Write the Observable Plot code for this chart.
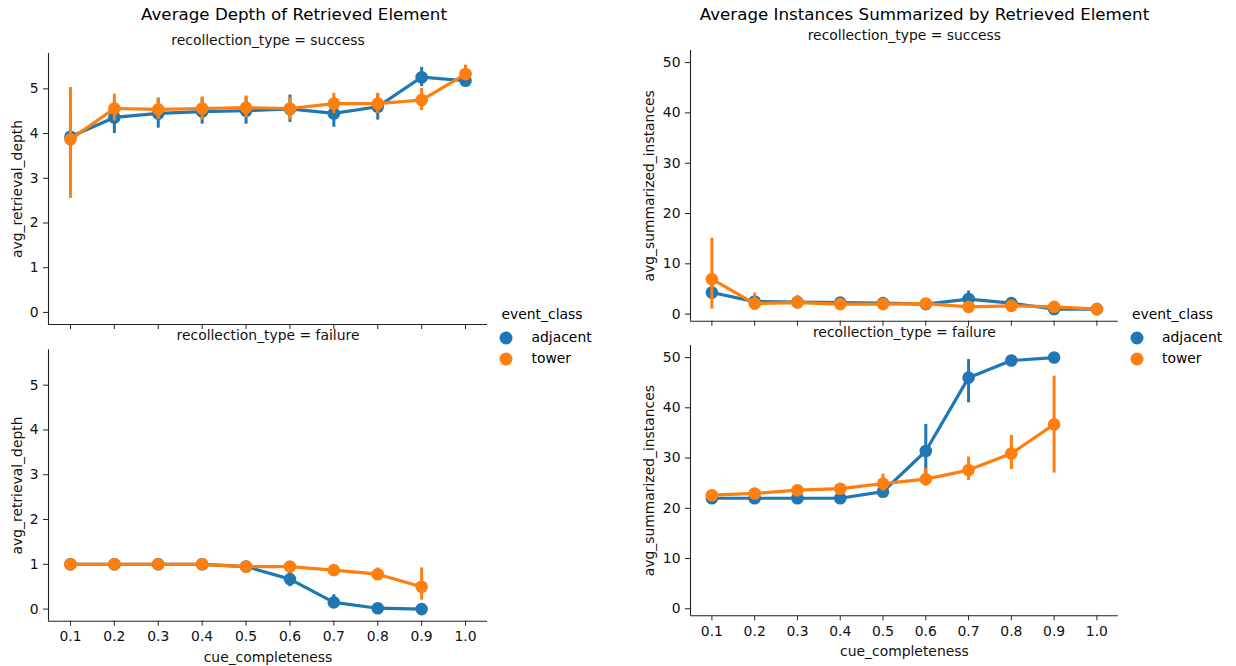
<!DOCTYPE html>
<html><head><meta charset="utf-8">
<script src="https://cdn.jsdelivr.net/npm/d3@7"></script>
<script src="https://cdn.jsdelivr.net/npm/@observablehq/plot@0.6"></script>
<style>
body{margin:0;background:#fff;}
#root{position:relative;width:1236px;height:666px;font-family:"DejaVu Sans",sans-serif;color:#000;overflow:hidden;background:#fff}
.t{position:absolute;white-space:nowrap;line-height:1;}
.sv{position:absolute;}
.dotk{position:absolute;width:13px;height:13px;border-radius:50%;transform:translate(-50%,-50%);}
</style></head><body><div id="root"></div>
<script>
// ---------- data ----------
const categories = ["0.1","0.2","0.3","0.4","0.5","0.6","0.7","0.8","0.9","1.0"];
const eventClasses = ["adjacent","tower"];
const colors = ["#1f77b4","#ff7f0e"];

// Average depth, success
const depthSuccAdjMean = [3.93,4.36,4.45,4.49,4.51,4.55,4.45,4.60,5.26,5.18];
const depthSuccAdjLo   = [3.40,4.00,4.12,4.21,4.21,4.25,4.14,4.30,5.05,5.08];
const depthSuccAdjHi   = [4.50,4.72,4.78,4.78,4.80,4.86,4.78,4.88,5.48,5.30];
const depthSuccTowMean = [3.87,4.56,4.54,4.56,4.58,4.56,4.67,4.67,4.75,5.33];
const depthSuccTowLo   = [2.55,4.28,4.32,4.30,4.35,4.30,4.45,4.45,4.51,5.18];
const depthSuccTowHi   = [5.03,4.88,4.80,4.82,4.84,4.80,4.90,4.90,5.01,5.53];
// Average depth, failure
const depthFailAdjMean = [1.00,1.00,1.00,1.00,0.95,0.67,0.15,0.02,0.00,null];
const depthFailAdjLo   = [1.00,1.00,1.00,1.00,0.92,0.50,0.02,0.00,0.00,null];
const depthFailAdjHi   = [1.00,1.00,1.00,1.00,0.98,0.82,0.32,0.05,0.00,null];
const depthFailTowMean = [1.00,1.00,1.00,1.00,0.95,0.95,0.87,0.78,0.50,null];
const depthFailTowLo   = [1.00,1.00,1.00,1.00,0.90,0.90,0.80,0.66,0.20,null];
const depthFailTowHi   = [1.00,1.00,1.00,1.00,0.99,0.99,0.94,0.92,0.92,null];
// Average summarized instances, success
const instSuccAdjMean = [4.3,2.5,2.4,2.3,2.2,2.0,3.0,2.2,1.0,1.0];
const instSuccAdjLo   = [3.0,1.6,1.6,1.7,1.7,1.6,1.7,1.6,0.9,0.9];
const instSuccAdjHi   = [5.8,3.5,3.3,3.1,2.8,2.5,4.6,2.9,1.2,1.1];
const instSuccTowMean = [6.96,2.1,2.3,2.0,2.0,2.1,1.45,1.65,1.45,1.0];
const instSuccTowLo   = [1.0,1.0,1.4,1.5,1.5,1.6,1.0,1.1,1.0,0.9];
const instSuccTowHi   = [15.1,4.2,3.7,2.8,2.6,2.7,2.0,2.4,2.0,1.2];
// Average summarized instances, failure
const instFailAdjMean = [22.0,22.0,22.0,22.0,23.3,31.4,46.0,49.4,50.0,null];
const instFailAdjLo   = [22.0,22.0,22.0,22.0,22.4,25.9,41.0,48.6,50.0,null];
const instFailAdjHi   = [22.0,22.0,22.0,22.0,24.2,36.7,49.6,50.0,50.0,null];
const instFailTowMean = [22.6,22.95,23.6,23.9,24.9,25.8,27.6,30.9,36.7,null];
const instFailTowLo   = [22.2,22.6,23.2,23.5,23.4,24.4,25.5,27.7,27.0,null];
const instFailTowHi   = [23.0,23.3,24.0,24.3,26.8,27.9,30.2,34.5,46.3,null];

const depthTicks = [0,1,2,3,4,5];
const instTicks = [0,10,20,30,40,50];

// ---------- helpers ----------
function rowsOf(mean, lo, hi, cls) {
  return categories.map((c, i) => ({i, cat: c, y: mean[i], lo: lo[i], hi: hi[i], cls}))
    .filter(d => d.y != null);
}
const root = document.getElementById("root");
const FS = 13.9;

function addText(txt, x, y, size, anchor = "middle") {
  const d = document.createElement("div");
  d.className = "t";
  d.textContent = txt;
  d.style.fontSize = size + "px";
  d.style.left = x + "px";
  d.style.top = y + "px";
  d.style.transform = anchor === "middle" ? "translate(-50%,-50%)" : "translate(0,-50%)";
  root.appendChild(d);
}

function panel({series, yDomain, yTicks, ylabel, ylabelDx, facet, facetDy, showX, left, top, width, height, mL, mR, mT, mB}) {
  const marks = [];
  marks.push(Plot.ruleY([yDomain[0]], {stroke: "#222", strokeWidth: 1.1}));
  marks.push(Plot.ruleX([-0.5], {stroke: "#222", strokeWidth: 1.1}));
  marks.push(Plot.axisX(d3.range(categories.length), {
    tickSize: 5, tickPadding: 5, label: null, stroke: "#222",
    tickFormat: i => showX ? categories[i] : "", fill: "#111"
  }));
  marks.push(Plot.axisY(yTicks, {tickSize: 5, tickPadding: 5, label: null, stroke: "#222", fill: "#111"}));
  series.forEach((rows, k) => {
    marks.push(Plot.line(rows, {x: "i", y: "y", stroke: colors[k], strokeWidth: 3.2}));
    marks.push(Plot.ruleX(rows, {x: "i", y1: "lo", y2: "hi", stroke: colors[k], strokeWidth: 3}));
    marks.push(Plot.dot(rows, {x: "i", y: "y", r: 6.3, fill: colors[k], stroke: null}));
  });
  marks.push(Plot.text([ylabel], {frameAnchor: "left", dx: ylabelDx, rotate: -90, textAnchor: "middle", lineAnchor: "middle", fontSize: FS, fill: "#111"}));
  marks.push(Plot.text([facet], {frameAnchor: "top", dy: facetDy, textAnchor: "middle", lineAnchor: "middle", fontSize: FS, fill: "#111"}));
  if (showX) marks.push(Plot.text(["cue_completeness"], {frameAnchor: "bottom", dy: 36, textAnchor: "middle", lineAnchor: "middle", fontSize: FS, fill: "#111"}));
  const svg = Plot.plot({
    width, height,
    marginLeft: mL, marginRight: mR, marginTop: mT, marginBottom: mB,
    x: {type: "linear", domain: [-0.5, categories.length - 0.5]},
    y: {type: "linear", domain: yDomain},
    style: {fontFamily: "DejaVu Sans", fontSize: FS + "px", background: "transparent", overflow: "visible", color: "#111"},
    marks
  });
  svg.classList.add("sv");
  svg.style.left = left + "px";
  svg.style.top = top + "px";
  root.appendChild(svg);
}

const depthDomain = [-0.27, 5.79];
const instDomain = [-1.4, 52.4];

panel({
  series: [rowsOf(depthSuccAdjMean, depthSuccAdjLo, depthSuccAdjHi, "adjacent"),
           rowsOf(depthSuccTowMean, depthSuccTowLo, depthSuccTowHi, "tower")],
  yDomain: depthDomain, yTicks: depthTicks, ylabel: "avg_retrieval_depth", ylabelDx: -31,
  facet: "recollection_type = success", facetDy: -13, showX: false,
  left: 0, top: 45, width: 500, height: 300, mL: 48, mR: 13, mT: 8, mB: 21
});
panel({
  series: [rowsOf(depthFailAdjMean, depthFailAdjLo, depthFailAdjHi, "adjacent"),
           rowsOf(depthFailTowMean, depthFailTowLo, depthFailTowHi, "tower")],
  yDomain: depthDomain, yTicks: depthTicks, ylabel: "avg_retrieval_depth", ylabelDx: -31,
  facet: "recollection_type = failure", facetDy: -14, showX: true,
  left: 0, top: 340, width: 500, height: 326, mL: 48, mR: 13, mT: 9.3, mB: 45.3
});
panel({
  series: [rowsOf(instSuccAdjMean, instSuccAdjLo, instSuccAdjHi, "adjacent"),
           rowsOf(instSuccTowMean, instSuccTowLo, instSuccTowHi, "tower")],
  yDomain: instDomain, yTicks: instTicks, ylabel: "avg_summarized_instances", ylabelDx: -41,
  facet: "recollection_type = success", facetDy: -15, showX: false,
  left: 620, top: 42, width: 510, height: 300, mL: 70, mR: 12.2, mT: 8, mB: 21.3
});
panel({
  series: [rowsOf(instFailAdjMean, instFailAdjLo, instFailAdjHi, "adjacent"),
           rowsOf(instFailTowMean, instFailTowLo, instFailTowHi, "tower")],
  yDomain: instDomain, yTicks: instTicks, ylabel: "avg_summarized_instances", ylabelDx: -41,
  facet: "recollection_type = failure", facetDy: -13.3, showX: true,
  left: 620, top: 337, width: 510, height: 329, mL: 70, mR: 12.2, mT: 8, mB: 50.7
});

// titles
addText("Average Depth of Retrieved Element", 294, 14, 16.7);
addText("Average Instances Summarized by Retrieved Element", 924.5, 14, 16.7);

// legends
function legend(x0, dotX, labelX) {
  addText("event_class", x0, 315, FS, "start");
  eventClasses.forEach((c, k) => {
    const d = document.createElement("div");
    d.className = "dotk";
    d.style.background = colors[k];
    d.style.left = dotX + "px";
    d.style.top = (338.3 + k * 21) + "px";
    root.appendChild(d);
    addText(c, labelX, 338.3 + k * 21, FS, "start");
  });
}
legend(501.5, 506, 531.5);
legend(1132, 1136.7, 1162);
</script></body></html>
